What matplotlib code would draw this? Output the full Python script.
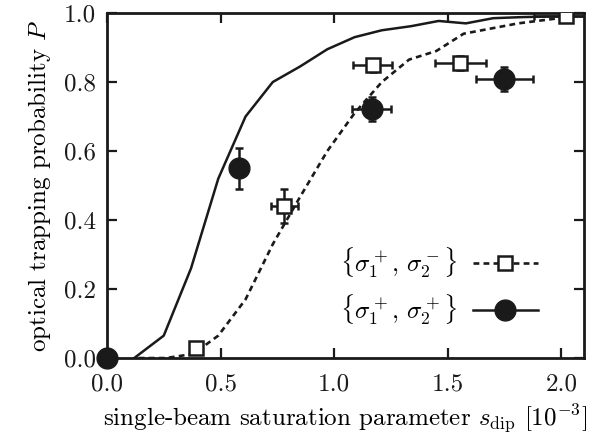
import numpy as np
import matplotlib
matplotlib.use("Agg")
import matplotlib.pyplot as plt
from matplotlib.ticker import FormatStrFormatter

plt.rcParams["font.family"] = "serif"
plt.rcParams["font.serif"] = ["cmr10", "DejaVu Serif"]
plt.rcParams["mathtext.fontset"] = "cm"
plt.rcParams["axes.formatter.use_mathtext"] = True

# theory curves
x_pp = [0.12, 0.25, 0.37, 0.49, 0.61, 0.73, 0.85, 0.97, 1.09, 1.21, 1.34, 1.46, 1.58, 1.70, 1.82, 1.94, 2.10]
y_pp = [0.0, 0.065, 0.26, 0.52, 0.70, 0.80, 0.845, 0.895, 0.93, 0.95, 0.962, 0.977, 0.97, 0.985, 0.988, 0.99, 0.99]

x_pm = [0.14, 0.26, 0.38, 0.49, 0.61, 0.73, 0.85, 0.97, 1.09, 1.21, 1.33, 1.45, 1.57, 1.69, 1.81, 1.93, 2.05]
y_pm = [0.0, 0.0, 0.012, 0.065, 0.17, 0.33, 0.467, 0.60, 0.71, 0.80, 0.865, 0.89, 0.94, 0.955, 0.97, 0.98, 0.99]

# measurements {s1+, s2-}
sq_x = [0.39, 0.78, 1.17, 1.555, 2.02]
sq_y = [0.028, 0.44, 0.848, 0.855, 0.99]
sq_xerr = [0.02, 0.06, 0.086, 0.112, 0.14]
sq_yerr = [0.012, 0.05, 0.02, 0.02, 0.01]

# measurements {s1+, s2+}
ci_x = [0.0, 0.58, 1.165, 1.75]
ci_y = [0.0, 0.55, 0.722, 0.809]
ci_xerr = [0.0, 0.025, 0.086, 0.125]
ci_yerr = [0.0, 0.06, 0.036, 0.035]

fig = plt.figure(figsize=(6.03, 4.34), dpi=100)
ax = fig.add_axes([0.1774, 0.175, 0.7911, 0.795])

ax.plot(x_pp, y_pp, color="#1a1a1a", lw=1.8)
ax.plot(x_pm, y_pm, color="#1a1a1a", lw=1.9, ls=(0, (2.2, 1.6)))

ax.errorbar(sq_x, sq_y, xerr=sq_xerr, yerr=sq_yerr, fmt="s", ms=10,
            mfc="white", mec="#1a1a1a", mew=1.8, ecolor="#1a1a1a",
            elinewidth=1.8, capsize=3, capthick=1.8, zorder=3)
ax.errorbar(ci_x, ci_y, xerr=ci_xerr, yerr=ci_yerr, fmt="o", ms=15,
            mfc="#1a1a1a", mec="#1a1a1a", ecolor="#1a1a1a",
            elinewidth=1.8, capsize=3, capthick=1.8, zorder=3, clip_on=False)

# legend handles
h1, = ax.plot([], [], color="#1a1a1a", lw=1.9, ls=(0, (2.2, 1.6)), marker="s",
              ms=10, mfc="white", mec="#1a1a1a", mew=1.8)
h2, = ax.plot([], [], color="#1a1a1a", lw=1.8, marker="o", ms=15,
              mfc="#1a1a1a", mec="#1a1a1a")
ax.legend([h1, h2],
          [r"$\{\sigma_1^+,\,\sigma_2^-\}$", r"$\{\sigma_1^+,\,\sigma_2^+\}$"],
          loc="lower right", bbox_to_anchor=(0.95, 0.025), frameon=False,
          markerfirst=False, fontsize=18, handlelength=2.6, labelspacing=0.5,
          handletextpad=0.6)

ax.set_xlim(0, 2.1)
ax.set_ylim(0, 1.0)
ax.set_xticks([0, 0.5, 1.0, 1.5, 2.0])
ax.set_yticks([0, 0.2, 0.4, 0.6, 0.8, 1.0])
ax.xaxis.set_major_formatter(FormatStrFormatter("%.1f"))
ax.yaxis.set_major_formatter(FormatStrFormatter("%.1f"))
ax.tick_params(direction="in", length=7, width=1.6, top=True, right=True,
               labelsize=18, pad=8, colors="#1a1a1a")
ax.tick_params(axis="x", pad=11)
for s in ax.spines.values():
    s.set_linewidth(2.0)
    s.set_color("#1a1a1a")

ax.set_xlabel(r"single-beam saturation parameter $s_{\rm dip}$ [$10^{-3}$]",
              fontsize=18, labelpad=5)
ax.set_ylabel(r"optical trapping probability $P$", fontsize=18, labelpad=8)

fig.savefig("out.png", dpi=100)
